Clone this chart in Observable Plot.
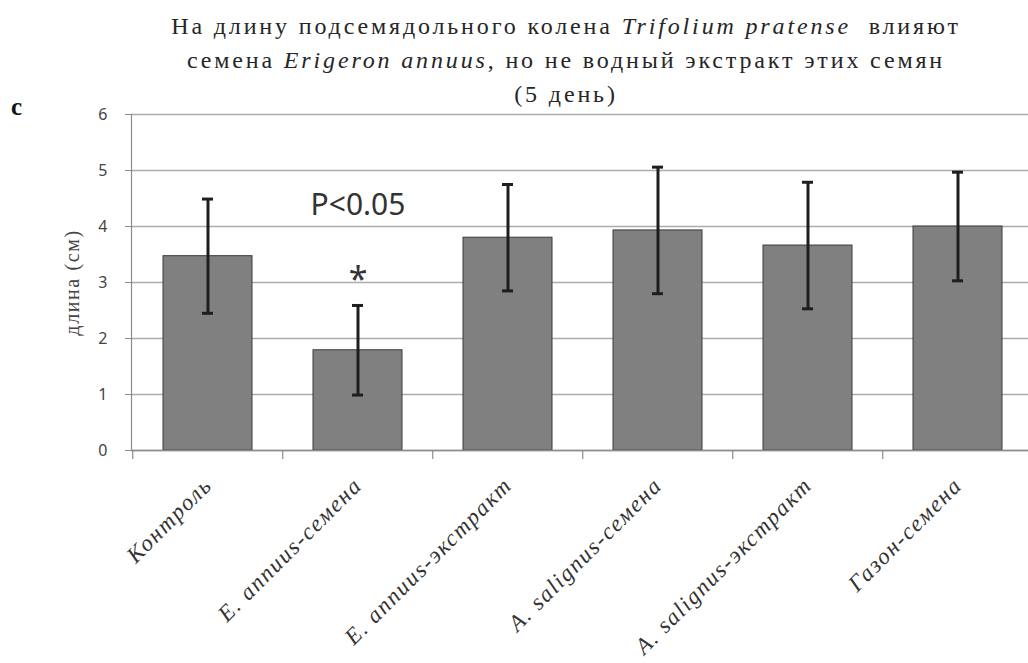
<!DOCTYPE html>
<html>
<head>
<meta charset="utf-8">
<script src="https://cdn.jsdelivr.net/npm/d3@7"></script>
<script src="https://cdn.jsdelivr.net/npm/@observablehq/plot@0.6"></script>
<style>
  html, body { margin: 0; padding: 0; background: #fff; overflow: hidden; width: 1028px; height: 663px; }
  #wrap { position: relative; width: 1028px; height: 663px; overflow: hidden; }
  #title { position: absolute; left: 0; top: 9px; width: 1132px; text-align: center;
    font-family: "Liberation Serif", "Times New Roman", serif; font-size: 24px; line-height: 34px;
    letter-spacing: 2.85px; color: #262626; }
  #panel { position: absolute; left: 11px; top: 93px; font-family: "Liberation Serif", serif;
    font-weight: bold; font-size: 25px; color: #111; }
  #chart { position: absolute; left: 0; top: 0; }
  #chart svg g[aria-label="x-axis tick label"] text { letter-spacing: 1.6px; }
  #chart svg g.ylab text { letter-spacing: 1.6px; }
</style>
</head>
<body>
<div id="wrap">
  <div id="chart"></div>
  <div id="title">На длину подсемядольного колена <i>Trifolium pratense</i>&nbsp; влияют<br>семена <i>Erigeron annuus</i>, но не водный экстракт этих семян<br>(5 день)</div>
  <div id="panel">c</div>
</div>
<script>
const categories = ["Контроль", "E. annuus-семена", "E. annuus-экстракт", "A. salignus-семена", "A. salignus-экстракт", "Газон-семена"];
const means = [3.47, 1.79, 3.80, 3.93, 3.66, 4.00];
const errors = [1.02, 0.80, 0.95, 1.13, 1.13, 0.97];
const yTicks = [0, 1, 2, 3, 4, 5, 6];
const yLabel = "длина (см)";
const annotations = [
  {cat: "E. annuus-семена", y: 4.38, text: "P<0.05", size: 30},
  {cat: "E. annuus-семена", y: 3.05, text: "*", size: 34}
];

const data = categories.map((c, i) => ({cat: c, mean: means[i], lo: means[i] - errors[i], hi: means[i] + errors[i]}));

const plot = Plot.plot({
  width: 1040,
  height: 663,
  marginTop: 114,
  marginBottom: 213,
  marginLeft: 131,
  marginRight: 6,
  x: {domain: categories, paddingInner: 0.41, paddingOuter: 0.205, label: null},
  y: {domain: [0, 6], label: null},
  style: {background: "white", maxWidth: "none", overflow: "visible"},
  marks: [
    Plot.gridY(yTicks, {stroke: "#acacac", strokeOpacity: 1, strokeWidth: 1.3}),
    Plot.axisY(yTicks, {tickSize: 6, tickPadding: 18, stroke: "#8c8c8c", fill: "#444", tickFormat: d3.format("d"),
      fontFamily: "'Noto Sans', sans-serif", fontSize: 16, label: null}),
    Plot.axisX({tickSize: 0, tickPadding: 31, tickRotate: -45, fontFamily: "'Liberation Serif', serif",
      fontStyle: "italic", fontSize: 23, fill: "#333", label: null}),
    Plot.text([yLabel], {frameAnchor: "left", textAnchor: "middle", dx: -59, rotate: -90, fontFamily: "'Liberation Serif', serif",
      fontSize: 20, fill: "#444", text: d => d, className: "ylab"}),
    Plot.barY(data, {x: "cat", y: "mean", fill: "#808080", stroke: "#3a3a3a", strokeWidth: 1}),
    Plot.ruleY([0], {stroke: "#8c8c8c", strokeWidth: 1.3}),
    Plot.ruleX(categories, {x: d => d, dx: -75.25, stroke: "#8c8c8c", strokeWidth: 1.2, insetTop: 336, insetBottom: -9}),
    Plot.ruleX(categories.slice(-1), {x: d => d, dx: 75.25, stroke: "#8c8c8c", strokeWidth: 1.2, insetTop: 336, insetBottom: -9}),
    Plot.frame({anchor: "left", stroke: "#8c8c8c", strokeWidth: 1.2}),
    Plot.ruleX(data, {x: "cat", y1: "lo", y2: "hi", stroke: "#1e1e1e", strokeWidth: 3}),
    Plot.tickY(data, {x: "cat", y: "hi", stroke: "#1e1e1e", strokeWidth: 3, insetLeft: 39, insetRight: 39}),
    Plot.tickY(data, {x: "cat", y: "lo", stroke: "#1e1e1e", strokeWidth: 3, insetLeft: 39, insetRight: 39}),
    Plot.text(annotations, {x: "cat", y: "y", text: "text", fontSize: d => d.size, fill: "#333",
      fontFamily: "'Noto Sans', sans-serif", lineAnchor: "middle"})
  ]
});
document.getElementById("chart").appendChild(plot);
</script>
</body>
</html>
